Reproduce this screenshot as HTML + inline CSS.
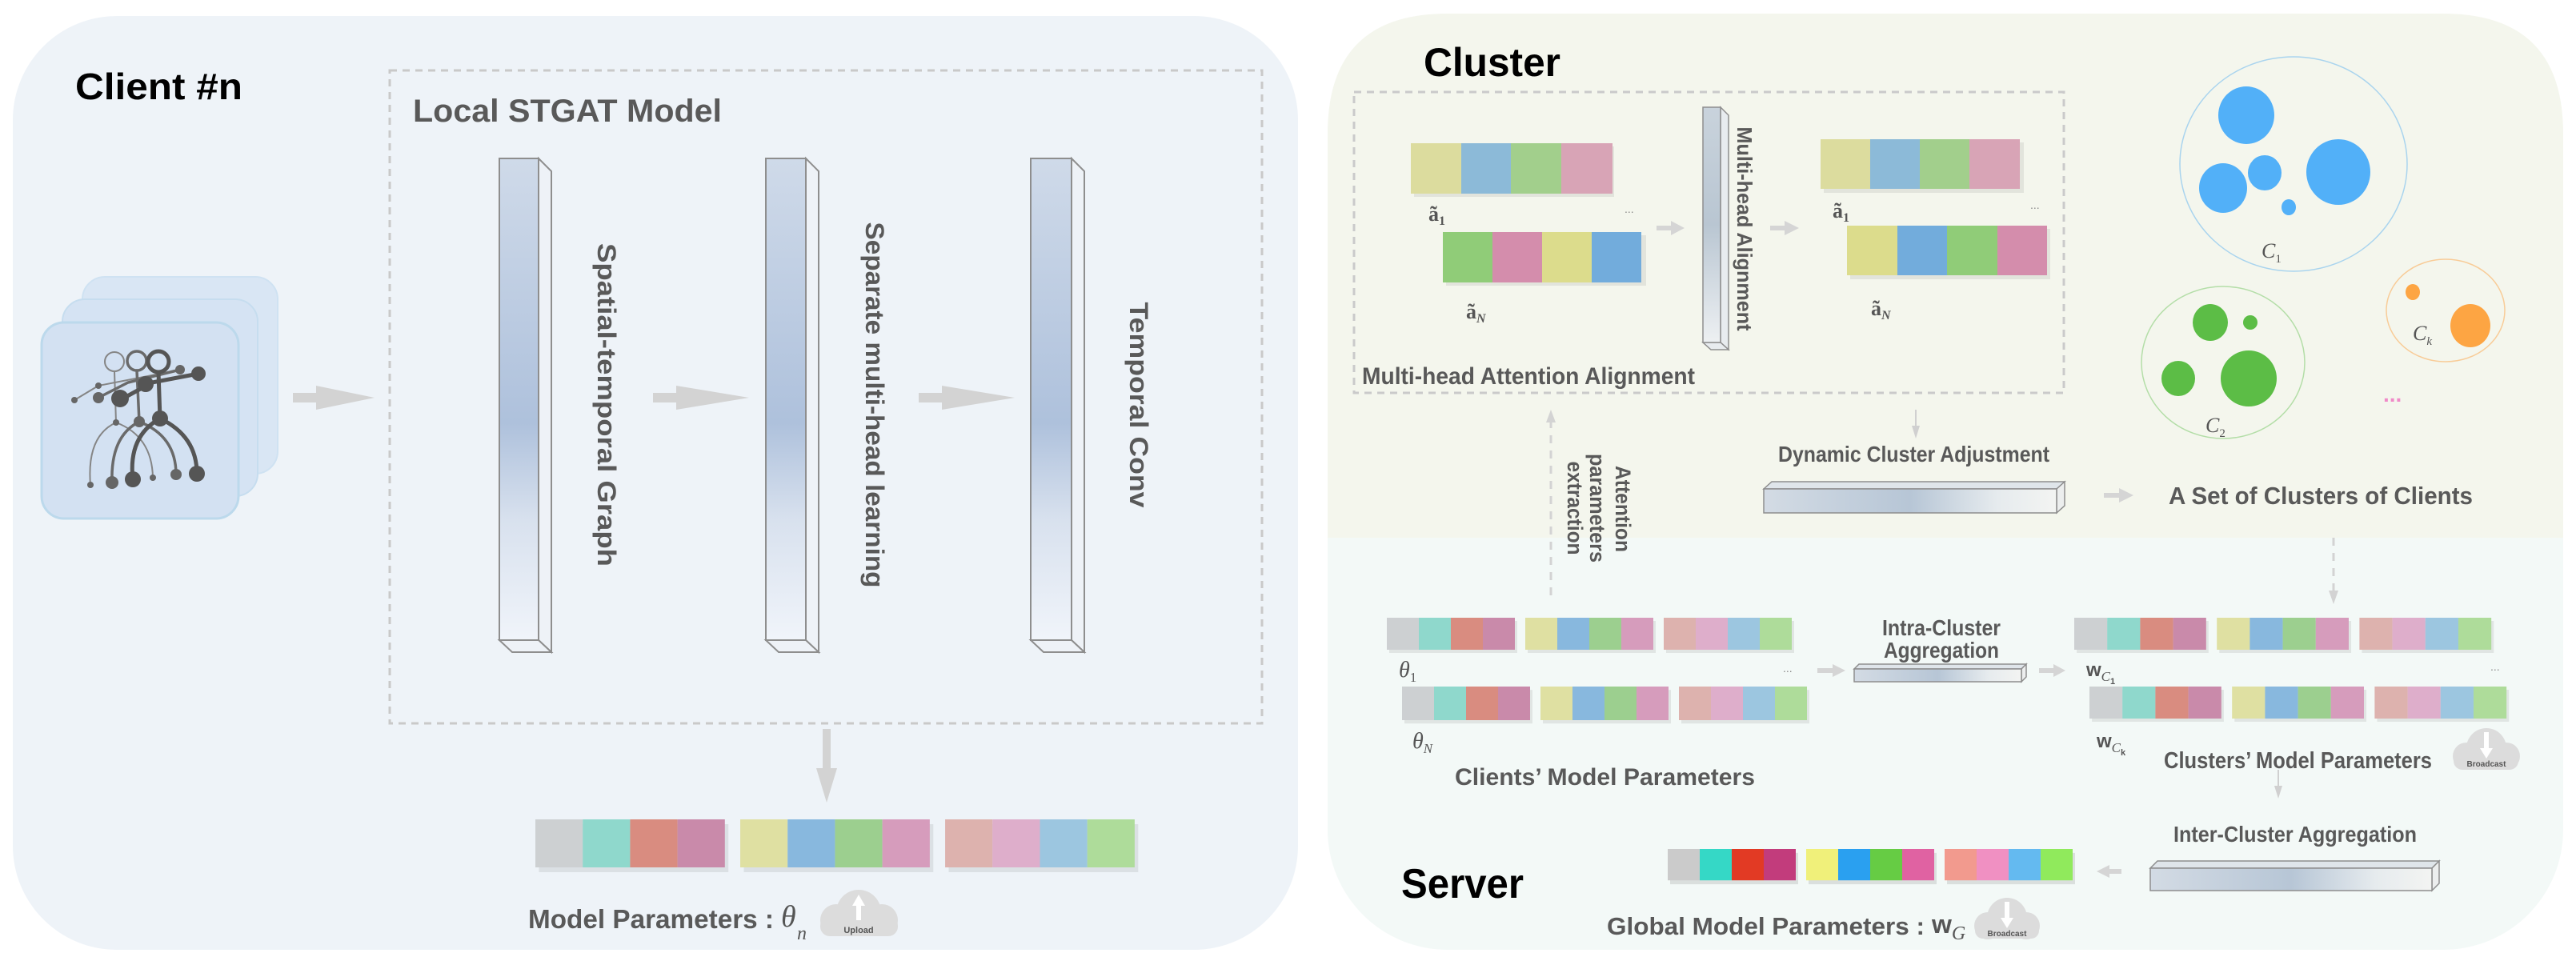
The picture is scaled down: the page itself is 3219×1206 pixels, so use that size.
<!DOCTYPE html>
<html><head><meta charset="utf-8"><style>
html,body{margin:0;padding:0;background:#fff;}
svg{display:block;}
text{font-family:"Liberation Sans",Arial,sans-serif;}
.t{fill:#595959;font-weight:bold;}
.m{font-family:"Liberation Serif",serif;fill:#555;font-style:italic;}
</style></head><body>
<svg width="3219" height="1206" viewBox="0 0 3219 1206" xmlns="http://www.w3.org/2000/svg">
<defs>
<linearGradient id="vb" x1="0" y1="0" x2="0" y2="1">
<stop offset="0" stop-color="#cfdae9"/><stop offset="0.55" stop-color="#aec1dc"/><stop offset="0.75" stop-color="#d8e1ee"/><stop offset="1" stop-color="#f0f4fa"/></linearGradient>
<linearGradient id="hb" x1="0" y1="0" x2="1" y2="0">
<stop offset="0" stop-color="#d3dbe4"/><stop offset="0.5" stop-color="#b7c6d6"/><stop offset="0.8" stop-color="#e6ebee"/><stop offset="1" stop-color="#f3f4f2"/></linearGradient>
<linearGradient id="ab" x1="0" y1="0" x2="0" y2="1">
<stop offset="0" stop-color="#c9d3dc"/><stop offset="0.5" stop-color="#b9c6d2"/><stop offset="1" stop-color="#edf0f2"/></linearGradient>
<g id="S">
<rect x="3" y="4" width="160" height="40" fill="#000" opacity="0.08"/>
<rect x="176" y="4" width="160" height="40" fill="#000" opacity="0.08"/>
<rect x="349" y="4" width="160" height="40" fill="#000" opacity="0.08"/>
<rect x="0" width="40" height="40" fill="#cdd0d2"/><rect x="40" width="40" height="40" fill="#8fd8cc"/><rect x="80" width="40" height="40" fill="#d98c80"/><rect x="120" width="40" height="40" fill="#c98aaa"/>
<rect x="173" width="40" height="40" fill="#dfe0a2"/><rect x="213" width="40" height="40" fill="#88b8de"/><rect x="253" width="40" height="40" fill="#9ccf8f"/><rect x="293" width="40" height="40" fill="#d69cbc"/>
<rect x="346" width="40" height="40" fill="#ddb2ae"/><rect x="386" width="40" height="40" fill="#deaecb"/><rect x="426" width="40" height="40" fill="#9cc6e0"/><rect x="466" width="40" height="40" fill="#aedc9a"/>
</g>
<g id="G">
<rect x="3" y="5" width="160" height="40" fill="#000" opacity="0.1"/>
<rect x="176" y="5" width="160" height="40" fill="#000" opacity="0.1"/>
<rect x="349" y="5" width="160" height="40" fill="#000" opacity="0.1"/>
<rect x="0" width="40" height="40" fill="#cbcbcb"/><rect x="40" width="40" height="40" fill="#35d8c6"/><rect x="80" width="40" height="40" fill="#e23a24"/><rect x="120" width="40" height="40" fill="#c23c7c"/>
<rect x="173" width="40" height="40" fill="#f0f07a"/><rect x="213" width="40" height="40" fill="#2aa0f0"/><rect x="253" width="40" height="40" fill="#66cc44"/><rect x="293" width="40" height="40" fill="#e062a2"/>
<rect x="346" width="40" height="40" fill="#f29a8e"/><rect x="386" width="40" height="40" fill="#f090c2"/><rect x="426" width="40" height="40" fill="#64baf0"/><rect x="466" width="40" height="40" fill="#90ea5c"/>
</g>
</defs>

<!-- Left panel -->
<rect x="16" y="20" width="1606" height="1167" rx="130" fill="#eef3f8"/>
<text x="94" y="124" font-size="46" font-weight="bold" fill="#000" textLength="209" lengthAdjust="spacingAndGlyphs">Client #n</text>
<rect x="487" y="88" width="1090" height="816" fill="none" stroke="#c9c9c9" stroke-width="3" stroke-dasharray="9,7"/>
<text class="t" x="516" y="152" font-size="40" textLength="386" lengthAdjust="spacingAndGlyphs">Local STGAT Model</text>

<!-- client cards -->
<rect x="103" y="346" width="244" height="246" rx="28" fill="#d9e6f4" stroke="#cfe2f2" stroke-width="2"/>
<rect x="78" y="374" width="244" height="246" rx="28" fill="#d5e3f3" stroke="#c6ddef" stroke-width="2"/>
<rect x="52" y="403" width="246" height="245" rx="28" fill="#d3e1f2" stroke="#bcd9ec" stroke-width="3"/>
<g fill="none" stroke-linecap="round">
<g stroke="#858585" stroke-width="2"><circle cx="143" cy="452" r="12"/><line x1="143" y1="464" x2="145" y2="528"/><path d="M145 528 Q108 545 113 606 M145 528 Q190 545 191 597"/><polyline points="93,500 123,482 195,468"/></g>
<g stroke="#6a6a6a" stroke-width="3.5"><circle cx="171" cy="451" r="12"/><line x1="171" y1="463" x2="174" y2="527"/><path d="M174 527 Q138 545 140 603 M174 527 Q220 545 220 593"/><polyline points="123,497 160,478 225,462"/></g>
<g stroke="#555" stroke-width="5"><circle cx="198" cy="452" r="13"/><line x1="198" y1="465" x2="200" y2="523"/><path d="M200 523 Q160 545 166 599 M200 523 Q246 545 246 592"/><polyline points="150,500 190,478 248,467"/></g>
</g>
<g fill="#666"><circle cx="93" cy="500" r="4"/><circle cx="123" cy="482" r="4"/><circle cx="113" cy="606" r="4"/><circle cx="191" cy="597" r="4"/><circle cx="145" cy="528" r="4"/>
<circle cx="123" cy="497" r="7"/><circle cx="140" cy="603" r="8"/><circle cx="220" cy="593" r="7"/><circle cx="174" cy="527" r="7"/><circle cx="225" cy="462" r="6"/>
<circle cx="150" cy="498" r="11" fill="#555"/><circle cx="182" cy="480" r="10" fill="#555"/><circle cx="166" cy="599" r="10" fill="#555"/><circle cx="246" cy="592" r="10" fill="#555"/><circle cx="200" cy="523" r="10" fill="#555"/><circle cx="248" cy="467" r="9" fill="#555"/></g>

<!-- arrows left -->
<g fill="#d3d3d3">
<polygon points="366,491 395,491 395,482 468,497 395,512 395,503 366,503"/>
<polygon points="816,491 845,491 845,482 936,497 845,512 845,503 816,503"/>
<polygon points="1148,491 1177,491 1177,482 1268,497 1177,512 1177,503 1148,503"/>
<polygon points="1028,911 1038,911 1038,960 1046,960 1033,1003 1020,960 1028,960"/>
</g>

<!-- vertical bars -->
<g stroke="#8e8e8e" stroke-width="2">
<polygon points="673,198 689,214 689,815 673,800" fill="#eef2f7"/><polygon points="624,800 673,800 689,815 640,815" fill="#eef2f7"/><rect x="624" y="198" width="49" height="602" fill="url(#vb)"/>
<polygon points="1007,198 1023,214 1023,815 1007,800" fill="#eef2f7"/><polygon points="957,800 1007,800 1023,815 973,815" fill="#eef2f7"/><rect x="957" y="198" width="50" height="602" fill="url(#vb)"/>
<polygon points="1339,198 1355,214 1355,815 1339,800" fill="#eef2f7"/><polygon points="1288,800 1339,800 1355,815 1304,815" fill="#eef2f7"/><rect x="1288" y="198" width="51" height="602" fill="url(#vb)"/>
</g>
<text class="t" font-size="32" transform="translate(758,506) rotate(90)" text-anchor="middle" dy="11" textLength="404" lengthAdjust="spacingAndGlyphs">Spatial-temporal Graph</text>
<text class="t" font-size="32" transform="translate(1093,506) rotate(90)" text-anchor="middle" dy="11" textLength="457" lengthAdjust="spacingAndGlyphs">Separate multi-head learning</text>
<text class="t" font-size="32" transform="translate(1423,506) rotate(90)" text-anchor="middle" dy="11" textLength="257" lengthAdjust="spacingAndGlyphs">Temporal Conv</text>

<use href="#S" transform="translate(669,1024) scale(1.48,1.5)"/>
<text class="t" x="660" y="1160" font-size="33" textLength="307" lengthAdjust="spacingAndGlyphs">Model Parameters :</text>
<text class="m" x="976" y="1158" font-size="38">θ</text><text class="m" x="996" y="1174" font-size="24">n</text>
<g fill="#dcdcdc"><circle cx="1073" cy="1140" r="28"/><circle cx="1045" cy="1150" r="20"/><circle cx="1102" cy="1150" r="20"/><rect x="1025" y="1145" width="97" height="25" rx="12"/></g>
<polygon points="1073,1118 1081,1132 1076,1132 1076,1150 1070,1150 1070,1132 1065,1132" fill="#fff"/>
<text x="1073" y="1166" font-size="11" font-weight="bold" fill="#555" text-anchor="middle">Upload</text>

<!-- Right panel -->
<rect x="1659" y="17" width="1544" height="1170" rx="150" fill="#f3f9f7"/>
<path d="M1659 672 L1659 167 Q1659 17 1809 17 L3053 17 Q3203 17 3203 167 L3203 672 Z" fill="#f4f6ed"/>
<text x="1779" y="95" font-size="50" font-weight="bold" fill="#000" textLength="171" lengthAdjust="spacingAndGlyphs">Cluster</text>
<rect x="1692" y="115" width="887" height="376" fill="none" stroke="#cacaca" stroke-width="3" stroke-dasharray="9,7"/>

<!-- attention blocks -->
<g>
<rect x="1767" y="183" width="250" height="63" fill="#000" opacity="0.07"/>
<rect x="1763" y="179" width="63" height="63" fill="#dcdc9e"/><rect x="1826" y="179" width="62" height="63" fill="#8cbad8"/><rect x="1888" y="179" width="63" height="63" fill="#a2cf8c"/><rect x="1951" y="179" width="64" height="63" fill="#d8a4b6"/>
<rect x="1807" y="294" width="250" height="63" fill="#000" opacity="0.07"/>
<rect x="1803" y="290" width="62" height="63" fill="#90cc78"/><rect x="1865" y="290" width="62" height="63" fill="#d48dac"/><rect x="1927" y="290" width="62" height="63" fill="#dcdc8c"/><rect x="1989" y="290" width="62" height="63" fill="#72acdc"/>
<rect x="2279" y="178" width="250" height="63" fill="#000" opacity="0.07"/>
<rect x="2275" y="174" width="62" height="62" fill="#dcdc9e"/><rect x="2337" y="174" width="62" height="62" fill="#8cbad8"/><rect x="2399" y="174" width="62" height="62" fill="#a2cf8c"/><rect x="2461" y="174" width="63" height="62" fill="#d8a4b6"/>
<rect x="2312" y="286" width="250" height="63" fill="#000" opacity="0.07"/>
<rect x="2308" y="282" width="63" height="62" fill="#dcdc8c"/><rect x="2371" y="282" width="62" height="62" fill="#72acdc"/><rect x="2433" y="282" width="63" height="62" fill="#90cc78"/><rect x="2496" y="282" width="62" height="62" fill="#d48dac"/>
</g>
<g font-size="26">
<text x="1785" y="276" class="m" style="font-style:normal;font-weight:bold">ã<tspan font-size="16" dy="5">1</tspan></text>
<text x="1832" y="398" class="m" style="font-style:normal;font-weight:bold">ã<tspan font-size="16" dy="5" font-style="italic">N</tspan></text>
<text x="2290" y="272" class="m" style="font-style:normal;font-weight:bold">ã<tspan font-size="16" dy="5">1</tspan></text>
<text x="2338" y="394" class="m" style="font-style:normal;font-weight:bold">ã<tspan font-size="16" dy="5" font-style="italic">N</tspan></text>
</g>
<text x="2030" y="266" font-size="14" fill="#888">...</text><text x="2537" y="261" font-size="14" fill="#888">...</text>
<g fill="#d5d5d5">
<polygon points="2070,282 2088,282 2088,276 2105,285 2088,294 2088,288 2070,288"/>
<polygon points="2212,282 2230,282 2230,276 2248,285 2230,294 2230,288 2212,288"/>
</g>
<g stroke="#8e8e8e" stroke-width="1.5">
<polygon points="2150,134 2160,144 2160,437 2150,428" fill="#e8ecef"/><polygon points="2128,428 2150,428 2160,437 2138,437" fill="#e8ecef"/>
<rect x="2128" y="134" width="22" height="294" fill="url(#ab)"/>
</g>
<text class="t" font-size="26" transform="translate(2180,286) rotate(90)" text-anchor="middle" dy="9" textLength="255" lengthAdjust="spacingAndGlyphs">Multi-head Alignment</text>
<text class="t" x="1702" y="480" font-size="30" textLength="416" lengthAdjust="spacingAndGlyphs">Multi-head Attention Alignment</text>

<!-- clusters -->
<ellipse cx="2866" cy="205" rx="142" ry="134" fill="none" stroke="#a9d4ee" stroke-width="1.5"/>
<g fill="#52b0f8"><ellipse cx="2807" cy="144" rx="35" ry="36"/><ellipse cx="2922" cy="215" rx="40" ry="41"/><ellipse cx="2778" cy="235" rx="30" ry="31"/><ellipse cx="2830" cy="216" rx="21" ry="22"/><ellipse cx="2860" cy="259" rx="9" ry="10"/></g>
<text class="m" x="2826" y="322" font-size="26">C<tspan font-size="15" dy="6" font-style="normal">1</tspan></text>
<ellipse cx="2778" cy="453" rx="102" ry="95" fill="none" stroke="#b4dea8" stroke-width="1.5"/>
<g fill="#5cbd46"><ellipse cx="2762" cy="403" rx="22" ry="23"/><ellipse cx="2812" cy="403" rx="9" ry="9"/><ellipse cx="2722" cy="473" rx="21" ry="22"/><ellipse cx="2810" cy="473" rx="35" ry="35"/></g>
<text class="m" x="2756" y="540" font-size="26">C<tspan font-size="15" dy="6" font-style="normal">2</tspan></text>
<ellipse cx="3056" cy="388" rx="74" ry="64" fill="none" stroke="#f8cc98" stroke-width="1.5"/>
<g fill="#fda543"><ellipse cx="3015" cy="365" rx="9" ry="10"/><ellipse cx="3087" cy="407" rx="25" ry="27"/></g>
<text class="m" x="3015" y="425" font-size="26">C<tspan font-size="15" dy="6">k</tspan></text>
<text x="2978" y="502" font-size="28" font-weight="bold" fill="#f08ac8">...</text>

<!-- dynamic cluster -->
<line x1="2394" y1="512" x2="2394" y2="535" stroke="#d0d0d0" stroke-width="2"/>
<polygon points="2389,532 2399,532 2394,548" fill="#d0d0d0"/>
<text class="t" x="2222" y="577" font-size="28" textLength="339" lengthAdjust="spacingAndGlyphs">Dynamic Cluster Adjustment</text>
<g stroke="#8e8e8e" stroke-width="1.5">
<polygon points="2204,611 2214,602 2580,602 2570,611" fill="#dfe5ea"/><polygon points="2570,611 2580,602 2580,632 2570,641" fill="#eceeee"/>
<rect x="2204" y="611" width="366" height="30" fill="url(#hb)"/></g>
<polygon points="2629,616 2648,616 2648,610 2666,619 2648,628 2648,622 2629,622" fill="#d5d5d5"/>
<text class="t" x="2710" y="630" font-size="31" textLength="380" lengthAdjust="spacingAndGlyphs">A Set of Clusters of Clients</text>

<!-- attention param extraction -->
<line x1="1938" y1="525" x2="1938" y2="753" stroke="#d3d3d3" stroke-width="3" stroke-dasharray="10,9"/>
<polygon points="1932,528 1944,528 1938,512" fill="#d3d3d3"/>
<g class="t" font-size="27" text-anchor="middle">
<text transform="translate(2028,636) rotate(90)" dy="9" textLength="108" lengthAdjust="spacingAndGlyphs">Attention</text>
<text transform="translate(1996,635) rotate(90)" dy="9" textLength="136" lengthAdjust="spacingAndGlyphs">parameters</text>
<text transform="translate(1968,635) rotate(90)" dy="9" textLength="117" lengthAdjust="spacingAndGlyphs">extraction</text>
</g>
<line x1="2916" y1="672" x2="2916" y2="740" stroke="#d3d3d3" stroke-width="3" stroke-dasharray="10,9"/>
<polygon points="2910,738 2922,738 2916,755" fill="#d3d3d3"/>

<!-- client strips -->
<use href="#S" transform="translate(1733,772)"/>
<use href="#S" transform="translate(1752,858) scale(1,1.05)"/>
<text class="m" x="1748" y="846" font-size="28">θ<tspan font-size="17" dy="6" font-style="normal">1</tspan></text>
<text class="m" x="1765" y="935" font-size="28">θ<tspan font-size="17" dy="6">N</tspan></text>
<text x="2228" y="840" font-size="14" fill="#888">...</text>
<text class="t" x="1818" y="981" font-size="30" textLength="375" lengthAdjust="spacingAndGlyphs">Clients’ Model Parameters</text>
<text class="t" x="2352" y="794" font-size="28" textLength="148" lengthAdjust="spacingAndGlyphs">Intra-Cluster</text>
<text class="t" x="2354" y="822" font-size="28" textLength="144" lengthAdjust="spacingAndGlyphs">Aggregation</text>
<g stroke="#8e8e8e" stroke-width="1.5">
<polygon points="2317,836 2323,830 2532,830 2526,836" fill="#dfe5ea"/><polygon points="2526,836 2532,830 2532,846 2526,852" fill="#eceeee"/>
<rect x="2317" y="836" width="209" height="16" fill="url(#hb)"/></g>
<polygon points="2271,835 2290,835 2290,830 2306,838 2290,846 2290,841 2271,841" fill="#d5d5d5"/>
<polygon points="2548,835 2566,835 2566,830 2581,838 2566,846 2566,841 2548,841" fill="#d5d5d5"/>

<!-- cluster strips -->
<use href="#S" transform="translate(2592,772) scale(1.03,1)"/>
<use href="#S" transform="translate(2611,858) scale(1.03,1)"/>
<text x="2607" y="845" font-size="24" font-weight="bold" fill="#555" font-family="Liberation Serif,serif">w<tspan class="m" font-size="17" dy="6" font-weight="normal">C</tspan><tspan font-size="11" dy="4">1</tspan></text>
<text x="2620" y="934" font-size="24" font-weight="bold" fill="#555" font-family="Liberation Serif,serif">w<tspan class="m" font-size="17" dy="6" font-weight="normal">C</tspan><tspan font-size="11" dy="4">k</tspan></text>
<text x="3112" y="838" font-size="14" fill="#888">...</text>
<text class="t" x="2704" y="960" font-size="29" textLength="335" lengthAdjust="spacingAndGlyphs">Clusters’ Model Parameters</text>
<g fill="#dcdcdc"><circle cx="3107" cy="935" r="25"/><circle cx="3082" cy="945" r="17"/><circle cx="3132" cy="945" r="17"/><rect x="3066" y="940" width="81" height="22" rx="11"/></g>
<polygon points="3104,915 3110,915 3110,935 3115,935 3107,948 3099,935 3104,935" fill="#fff"/>
<text x="3107" y="958" font-size="10" font-weight="bold" fill="#555" text-anchor="middle">Broadcast</text>

<line x1="2847" y1="962" x2="2847" y2="985" stroke="#d0d0d0" stroke-width="2"/>
<polygon points="2842,982 2852,982 2847,998" fill="#d0d0d0"/>
<text class="t" x="2716" y="1052" font-size="28" textLength="304" lengthAdjust="spacingAndGlyphs">Inter-Cluster Aggregation</text>
<g stroke="#8e8e8e" stroke-width="1.5">
<polygon points="2687,1085 2696,1076 3048,1076 3039,1085" fill="#dfe5ea"/><polygon points="3039,1085 3048,1076 3048,1104 3039,1113" fill="#eceeee"/>
<rect x="2687" y="1085" width="352" height="28" fill="url(#hb)"/></g>
<polygon points="2651,1086 2636,1086 2636,1081 2620,1089 2636,1097 2636,1092 2651,1092" fill="#d5d5d5"/>

<use href="#G" transform="translate(2084,1061) scale(1,0.98)"/>
<text x="1751" y="1122" font-size="52" font-weight="bold" fill="#000" textLength="153" lengthAdjust="spacingAndGlyphs">Server</text>
<text class="t" x="2008" y="1168" font-size="31" textLength="397" lengthAdjust="spacingAndGlyphs">Global Model Parameters :</text>
<text x="2414" y="1166" font-size="32" font-weight="bold" fill="#555" font-family="Liberation Serif,serif">w<tspan class="m" font-size="24" dy="8" font-weight="normal">G</tspan></text>
<g fill="#dcdcdc"><circle cx="2508" cy="1147" r="25"/><circle cx="2484" cy="1157" r="17"/><circle cx="2532" cy="1157" r="17"/><rect x="2468" y="1152" width="80" height="21" rx="10"/></g>
<polygon points="2505,1127 2511,1127 2511,1147 2516,1147 2508,1160 2500,1147 2505,1147" fill="#fff"/>
<text x="2508" y="1170" font-size="10" font-weight="bold" fill="#555" text-anchor="middle">Broadcast</text>
</svg>
</body></html>
